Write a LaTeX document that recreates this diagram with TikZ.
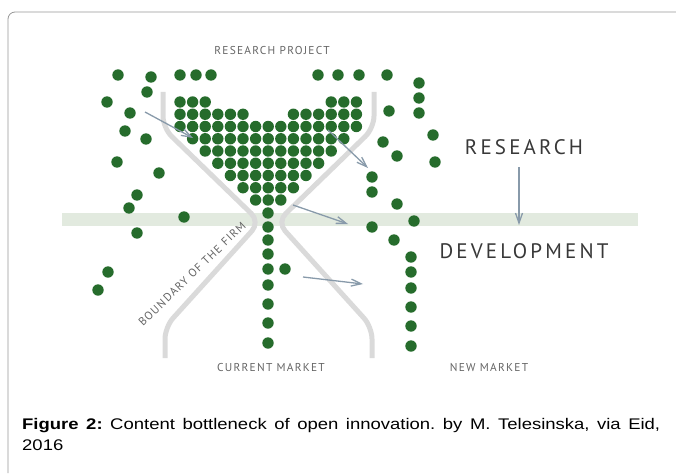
\documentclass[tikz,border=0pt]{standalone}
\usepackage{fontspec}
\setmainfont{Liberation Sans}
\newfontfamily\capfont[FakeStretch=1.2]{Liberation Sans}
\newfontfamily\smallfont[LetterSpace=11]{PT Sans}
\newfontfamily\bigfont[LetterSpace=15]{PT Sans}
\usetikzlibrary{arrows.meta,positioning}
\frenchspacing

\definecolor{dotgreen}{RGB}{38,108,44}
\definecolor{firmgrey}{RGB}{218,218,218}
\definecolor{bandgreen}{RGB}{226,234,223}
\definecolor{flowblue}{RGB}{136,154,170}
\definecolor{labelgrey}{RGB}{100,100,100}
\definecolor{framegrey}{RGB}{150,150,150}

\tikzset{
  dot/.style={fill=dotgreen},
  firm/.style={draw=firmgrey, line width=5pt, rounded corners=12pt},
  flow/.style={draw=flowblue, line width=1.3pt, -{Straight Barb[length=10pt,width=7pt]}},
  smalllabel/.style={text=labelgrey, font=\smallfont\fontsize{11.4}{13}\selectfont, inner sep=0pt},
  biglabel/.style={text=black!78, font=\bigfont\fontsize{21}{24}\selectfont, inner sep=0pt},
}

\begin{document}
\begin{tikzpicture}[x=1pt, y=-1pt]
  \useasboundingbox (0,0) rectangle (676,473);
  \draw[framegrey, line width=0.8pt, rounded corners=7pt] (8,473) -- (8,12) -- (676,12);

  % research / development band
  \fill[bandgreen] (62,213) rectangle (638,226);

  % boundary of the firm
  \draw[firm] (163,92) -- (163,128) -- (260,222) -- (165,327) -- (165,358);
  \draw[firm] (374,92) -- (374,128) -- (277,222) -- (372,327) -- (372,358);

  % funnel of ideas
  \foreach \r/\a/\b in {1/0/2,1/12/14,2/0/5,2/9/14,3/0/14,4/1/13,5/2/12,6/3/11,7/4/10,8/5/9,9/6/8}
    \foreach \c in {\a,...,\b}
      \fill[dot] ({180+12.6*\c},{102+12.25*(\r-1)}) circle[radius=5.7pt];
  \foreach \y in {213,227,240,254,269,285,304,323,343}
    \fill[dot] (268,\y) circle[radius=5.7pt];
  \foreach \x/\y in {285/269,
      118/75,151/77,147/92,107/102,130/113,125/131,146/139,117/162,159/173,
      137/195,129/208,184/217,137/233,108/272,98/290,
      180/75,196/75,211/75,318/75,338/75,359/75,387/75,
      419/83,419/98,419/113,389/111,433/135,383/142,397/156,435/162,
      372/177,372/192,397/204,414/221,372/227,394/240,
      411/257,411/272,411/288,411/307,411/326,411/346}
    \fill[dot] (\x,\y) circle[radius=5.7pt];

  % spill-over arrows
  \coordinate (s1) at (145,112); \coordinate (e1) at (193,138);
  \coordinate (s2) at (328,130); \coordinate (e2) at (368,168);
  \coordinate (s3) at (293,205); \coordinate (e3) at (348,224);
  \coordinate (s4) at (303,277); \coordinate (e4) at (363,284);
  \draw[flow] (s1) -- (e1);
  \draw[flow] (s2) -- (e2);
  \draw[flow] (s3) -- (e3);
  \draw[flow] (s4) -- (e4);

  % labels
  \node[smalllabel] (project) at (272,51) {RESEARCH PROJECT};
  \node[biglabel] (research) at (524,147) {RESEARCH};
  \node[biglabel, below=104pt of research.center, anchor=center] (development) {DEVELOPMENT};
  \coordinate (rtop) at (519,167);
  \coordinate (rbot) at (519,225);
  \draw[flow] (rtop) -- (rbot);
  \node[smalllabel, rotate=44] (boundary) at (192,274) {BOUNDARY OF THE FIRM};
  \node[smalllabel] (current) at (271,368) {CURRENT MARKET};
  \node[smalllabel, right=218pt of current.center, anchor=center] (newmarket) {NEW MARKET};

  \node[anchor=north west, text width=638pt, align=justify, inner sep=0pt,
        font=\capfont\fontsize{15.4}{21.3}\selectfont] (caption) at (22,418)
    {\textbf{Figure 2:} Content bottleneck of open innovation. by M. Telesinska, via Eid,\linebreak 2016};
\end{tikzpicture}
\end{document}
